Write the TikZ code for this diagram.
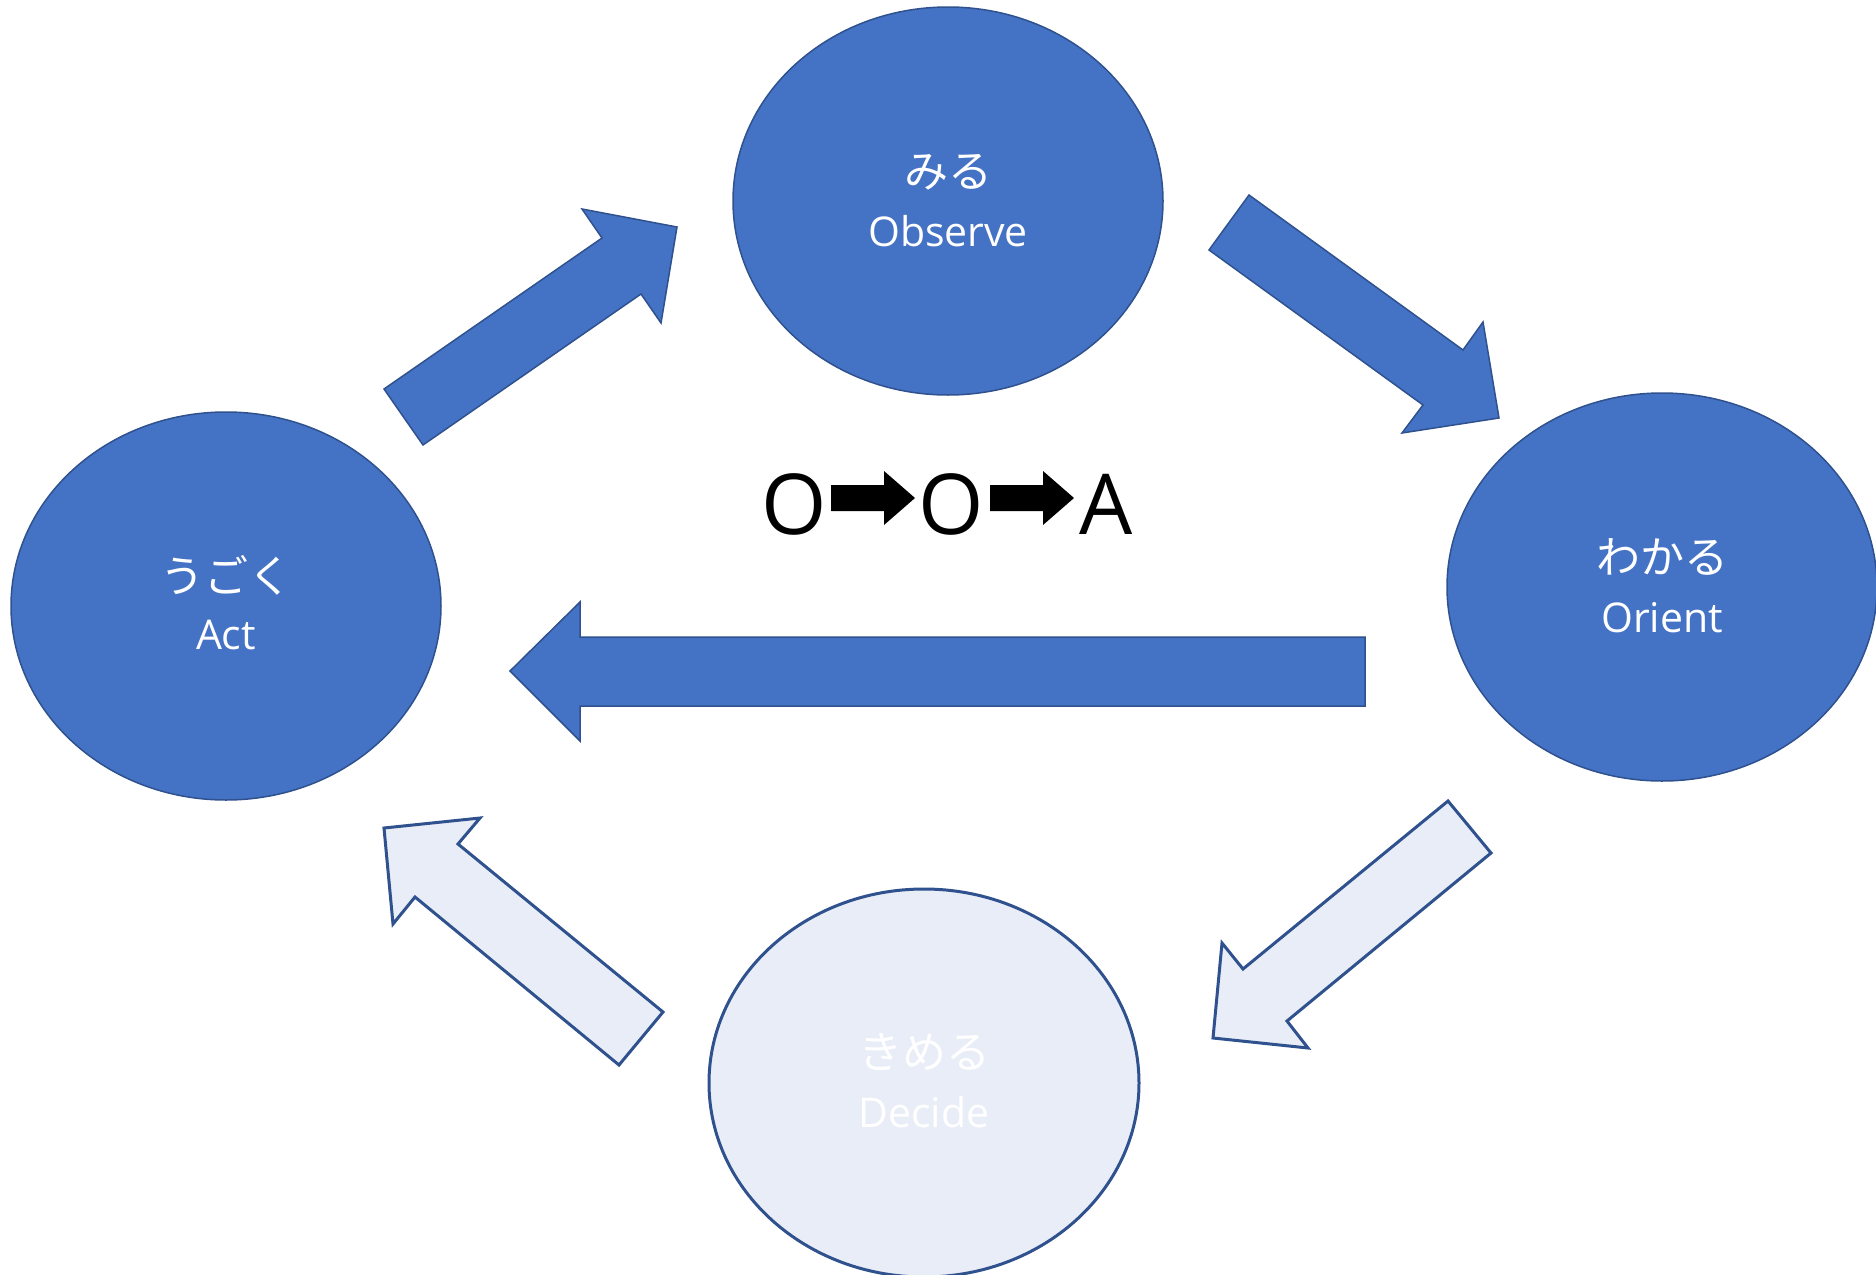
\documentclass[tikz,border=0pt]{standalone}
\usepackage{fontspec}
\setmainfont{Open Sans}
\newfontfamily\jpfont{Noto Sans CJK JP}
\usetikzlibrary{shapes.geometric,calc}
\definecolor{accent}{HTML}{4472C4}
\definecolor{accentline}{HTML}{2F528F}
\definecolor{accentpale}{HTML}{E9EDF7}

\begin{document}
\begin{tikzpicture}[x=1pt,y=-1pt,
  stage/.style={ellipse, draw=accentline, line width=1.5pt, fill=accent,
    minimum width=430pt, minimum height=388pt, inner sep=0pt},
  stagepale/.style={stage, fill=accentpale, line width=3pt},
  kana/.style={text=white, inner sep=0pt, font=\jpfont\fontsize{44}{44}\selectfont},
  word/.style={text=white, inner sep=0pt, anchor=base, font=\fontsize{41}{41}\selectfont},
  bigarrow/.style={fill=accent, draw=accentline, line width=1.5pt, line join=miter},
  bigarrowpale/.style={bigarrow, fill=accentpale, line width=3pt},
  loopletter/.style={inner sep=0pt, anchor=base, font=\fontsize{84}{84}\selectfont},
]
\useasboundingbox (0,0) rectangle (1876,1274);

% the four stages of the loop
\node[stage]     (obs) at (948,201)  {};
\node[stage]     (ori) at (1662,587) {};
\node[stagepale] (dec) at (924,1083) {};
\node[stage]     (act) at (226,606)  {};

\node[kana] (obsj) at ($(obs)+(0,-29)$) {みる};
\node[word] (obse) at ($(obs)+(0,45)$)  {Observe};
\node[kana] (orij) at ($(ori)+(0,-30)$) {わかる};
\node[word] (orie) at ($(ori)+(0,45)$)  {Orient};
\node[kana] (decj) at ($(dec)+(0,-31)$) {きめる};
\node[word] (dece) at ($(dec)+(0,44)$)  {Decide};
\node[kana] (actj) at ($(act)+(0,-31)$) {うごく};
\node[word] (acte) at ($(act)+(0,43)$)  {Act};

% block arrows between the stages
\draw[bigarrow] (384,389) -- (602,238) -- (582,209) -- (677,227)
  -- (661,323) -- (641,294) -- (423,445) -- cycle;
\draw[bigarrow] (1249,195) -- (1463,350) -- (1483,322) -- (1499,418)
  -- (1402,433) -- (1423,405) -- (1209,250) -- cycle;
\draw[bigarrow] (1365,637) -- (580,637) -- (580,602) -- (510,671)
  -- (580,741) -- (580,706) -- (1365,706) -- cycle;
\draw[bigarrowpale] (1448,801) -- (1491,853) -- (1287,1021) -- (1308,1048)
  -- (1213,1038) -- (1222,943) -- (1243,969) -- cycle;
\draw[bigarrowpale] (663,1012) -- (619,1065) -- (415,897) -- (393,924)
  -- (384,828) -- (480,818) -- (458,844) -- cycle;

% O -> O -> A in the middle
\node[loopletter] (l1) at (794.5,534) {O};
\node[loopletter] (l2) at (951.5,534) {O};
\node[loopletter] (l3) at (1106,534)  {A};
\fill (831,485) -- (884,485) -- (884,471) -- (915,498) -- (884,525)
  -- (884,511) -- (831,511) -- cycle;
\fill (990,485) -- (1043,485) -- (1043,471) -- (1074,498) -- (1043,525)
  -- (1043,511) -- (990,511) -- cycle;
\end{tikzpicture}
\end{document}
